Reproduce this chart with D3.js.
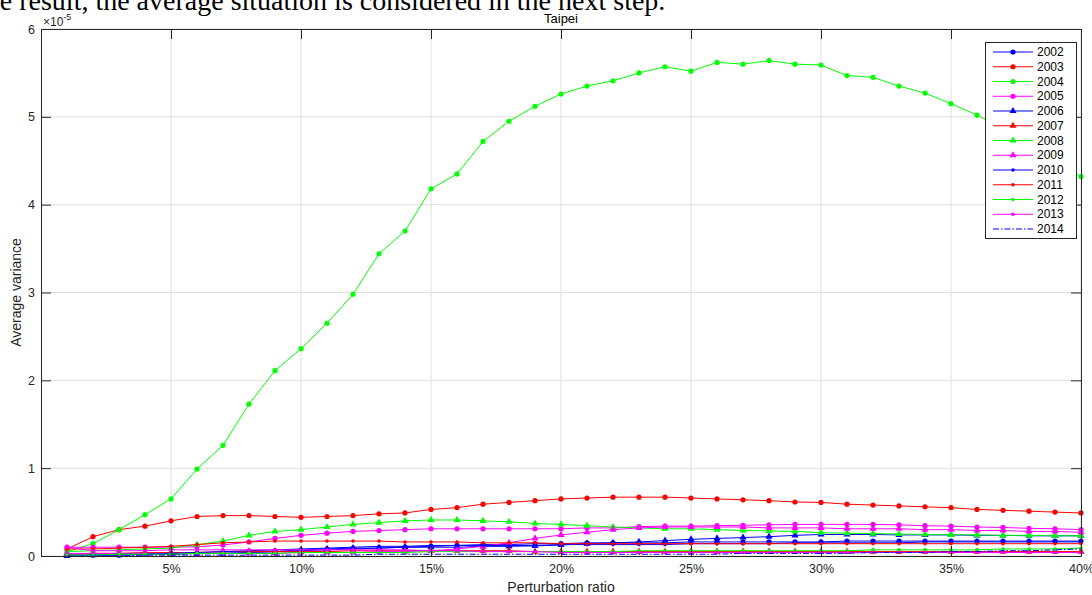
<!DOCTYPE html>
<html>
<head>
<meta charset="utf-8">
<script src="https://cdn.jsdelivr.net/npm/d3@7"></script>
<style>
body { margin: 0; background: #fff; }
svg { display: block; }
</style>
</head>
<body>
<svg></svg>
<script>
// perturbation ratio, %
const ratios = [1, 2, 3, 4, 5, 6, 7, 8, 9, 10, 11, 12, 13, 14, 15, 16, 17, 18, 19, 20,
    21, 22, 23, 24, 25, 26, 27, 28, 29, 30, 31, 32, 33, 34, 35, 36, 37, 38, 39, 40];
const years = ["2002", "2003", "2004", "2005", "2006", "2007", "2008", "2009", "2010", "2011", "2012", "2013", "2014"];
const xTicks = [5, 10, 15, 20, 25, 30, 35, 40];
const yTicks = [0, 1, 2, 3, 4, 5, 6];

// average variance, x 1e-5
const v2002 = [0.01, 0.01, 0.01, 0.02, 0.02, 0.03, 0.03, 0.04, 0.05, 0.06, 0.07, 0.08, 0.09, 0.10, 0.11, 0.12, 0.13, 0.13, 0.14, 0.14,
    0.15, 0.15, 0.15, 0.15, 0.16, 0.16, 0.16, 0.16, 0.16, 0.16, 0.17, 0.17, 0.17, 0.17, 0.17, 0.17, 0.17, 0.17, 0.17, 0.17];
const v2003 = [0.08, 0.22, 0.30, 0.34, 0.40, 0.45, 0.46, 0.46, 0.45, 0.44, 0.45, 0.46, 0.48, 0.49, 0.53, 0.55, 0.59, 0.61, 0.63, 0.65,
    0.66, 0.67, 0.67, 0.67, 0.66, 0.65, 0.64, 0.63, 0.615, 0.61, 0.59, 0.58, 0.57, 0.56, 0.55, 0.53, 0.52, 0.51, 0.50, 0.49];
const v2004 = [0.05, 0.14, 0.30, 0.47, 0.65, 0.99, 1.26, 1.73, 2.11, 2.36, 2.65, 2.98, 3.44, 3.70, 4.18, 4.35, 4.72, 4.95, 5.12, 5.26,
    5.35, 5.41, 5.50, 5.57, 5.52, 5.62, 5.60, 5.64, 5.60, 5.59, 5.47, 5.45, 5.35, 5.27, 5.15, 5.02, 4.86, 4.68, 4.50, 4.32];
const v2005 = [0.10, 0.10, 0.10, 0.10, 0.10, 0.105, 0.125, 0.16, 0.20, 0.235, 0.26, 0.28, 0.29, 0.30, 0.31, 0.31, 0.31, 0.31, 0.31, 0.31,
    0.32, 0.32, 0.335, 0.34, 0.34, 0.345, 0.35, 0.355, 0.36, 0.36, 0.36, 0.36, 0.355, 0.345, 0.34, 0.33, 0.325, 0.315, 0.31, 0.30];
const v2006 = [0.00, 0.01, 0.01, 0.02, 0.02, 0.03, 0.03, 0.04, 0.05, 0.07, 0.08, 0.09, 0.09, 0.10, 0.10, 0.10, 0.11, 0.11, 0.115, 0.125,
    0.14, 0.15, 0.16, 0.175, 0.19, 0.20, 0.21, 0.22, 0.235, 0.245, 0.245, 0.245, 0.24, 0.24, 0.24, 0.235, 0.235, 0.23, 0.23, 0.23];
const v2007 = [0.02, 0.03, 0.03, 0.04, 0.04, 0.04, 0.05, 0.05, 0.05, 0.05, 0.05, 0.06, 0.06, 0.06, 0.06, 0.06, 0.06, 0.06, 0.05, 0.05,
    0.05, 0.05, 0.05, 0.05, 0.05, 0.05, 0.05, 0.05, 0.05, 0.05, 0.05, 0.05, 0.05, 0.05, 0.05, 0.05, 0.05, 0.05, 0.05, 0.05];
const v2008 = [0.05, 0.06, 0.07, 0.08, 0.09, 0.13, 0.17, 0.235, 0.28, 0.30, 0.33, 0.36, 0.38, 0.40, 0.41, 0.41, 0.40, 0.39, 0.37, 0.36,
    0.345, 0.33, 0.32, 0.31, 0.31, 0.30, 0.29, 0.285, 0.28, 0.265, 0.26, 0.255, 0.25, 0.245, 0.24, 0.24, 0.235, 0.235, 0.23, 0.23];
const v2009 = [0.03, 0.03, 0.03, 0.03, 0.03, 0.03, 0.03, 0.03, 0.03, 0.04, 0.04, 0.04, 0.05, 0.05, 0.06, 0.08, 0.11, 0.15, 0.20, 0.24,
    0.27, 0.30, 0.32, 0.33, 0.33, 0.33, 0.33, 0.32, 0.32, 0.32, 0.31, 0.31, 0.31, 0.30, 0.30, 0.29, 0.29, 0.28, 0.28, 0.27];
const v2010 = [0.01, 0.01, 0.02, 0.02, 0.03, 0.04, 0.05, 0.06, 0.07, 0.08, 0.09, 0.10, 0.11, 0.11, 0.12, 0.12, 0.12, 0.12, 0.12, 0.13,
    0.13, 0.13, 0.13, 0.13, 0.14, 0.14, 0.14, 0.14, 0.15, 0.15, 0.15, 0.15, 0.15, 0.16, 0.16, 0.16, 0.16, 0.16, 0.16, 0.16];
const v2011 = [0.08, 0.08, 0.09, 0.10, 0.11, 0.13, 0.15, 0.16, 0.17, 0.17, 0.17, 0.17, 0.17, 0.16, 0.16, 0.16, 0.15, 0.15, 0.15, 0.14,
    0.14, 0.14, 0.14, 0.14, 0.14, 0.14, 0.14, 0.14, 0.14, 0.14, 0.14, 0.14, 0.14, 0.14, 0.14, 0.14, 0.14, 0.14, 0.14, 0.14];
const v2012 = [0.01, 0.01, 0.02, 0.02, 0.02, 0.03, 0.03, 0.03, 0.03, 0.04, 0.04, 0.04, 0.04, 0.04, 0.05, 0.05, 0.05, 0.05, 0.05, 0.05,
    0.05, 0.05, 0.06, 0.06, 0.06, 0.06, 0.06, 0.06, 0.06, 0.06, 0.06, 0.07, 0.07, 0.07, 0.07, 0.07, 0.08, 0.08, 0.08, 0.09];
const v2013 = [0.10, 0.06, 0.06, 0.06, 0.07, 0.07, 0.07, 0.07, 0.07, 0.07, 0.07, 0.07, 0.07, 0.07, 0.06, 0.06, 0.05, 0.05, 0.05, 0.04,
    0.04, 0.04, 0.04, 0.04, 0.04, 0.04, 0.04, 0.04, 0.04, 0.04, 0.04, 0.04, 0.04, 0.04, 0.04, 0.04, 0.04, 0.04, 0.04, 0.04];
const v2014 = [0.00, 0.00, 0.00, 0.01, 0.01, 0.01, 0.01, 0.01, 0.01, 0.01, 0.01, 0.01, 0.02, 0.02, 0.02, 0.02, 0.02, 0.02, 0.02, 0.02,
    0.02, 0.02, 0.02, 0.02, 0.02, 0.02, 0.03, 0.03, 0.03, 0.03, 0.03, 0.04, 0.04, 0.04, 0.05, 0.05, 0.06, 0.06, 0.07, 0.08];

const seriesValues = [v2002, v2003, v2004, v2005, v2006, v2007, v2008, v2009, v2010, v2011, v2012, v2013, v2014];

// line styles, same order as years
const seriesColors = ["#0000ff", "#ff0000", "#00ff00", "#ff00ff", "#0000ff", "#ff0000", "#00ff00", "#ff00ff",
    "#0000ff", "#ff0000", "#00ff00", "#ff00ff", "#0000ff"];
const seriesMarkers = ["circle", "circle", "circle", "circle", "triangle", "triangle", "triangle", "triangle",
    "dot", "dot", "dot", "dot", "none"];

const axisColor = "#262626";
const font = "'Liberation Sans', Arial, sans-serif";

function drawMarker(g, type, x, y, color) {
    // draws one marker of the given type at (x, y)
    if (type == "circle") {
        g.append("circle").attr("cx", x).attr("cy", y).attr("r", 2.6).attr("fill", color);
    } else if (type == "dot") {
        g.append("circle").attr("cx", x).attr("cy", y).attr("r", 1.8).attr("fill", color);
    } else if (type == "triangle") {
        g.append("path")
            .attr("d", d3.symbol().type(d3.symbolTriangle).size(22)())
            .attr("transform", `translate(${x}, ${y})`)
            .attr("fill", color);
    }
}

function styleAxis(g) {
    g.select(".domain").attr("stroke", axisColor).attr("stroke-width", 1);
    g.selectAll(".tick line").attr("stroke", axisColor);
    g.selectAll(".tick text")
        .attr("fill", axisColor)
        .style("font-family", font)
        .style("font-size", "12.5px");
}

function drawChart() {
    let width = 1092;
    let height = 595;
    let left = 41;
    let right = 1081;
    let top = 29;
    let bottom = 556;

    let svg = d3.select("svg")
        .attr("width", width)
        .attr("height", height);

    // text of the page above the figure, cut at the top
    svg.append("text")
        .attr("x", -22)
        .attr("y", 10)
        .style("font-family", "'Liberation Serif', 'Times New Roman', serif")
        .style("font-size", "28px")
        .attr("fill", "#000")
        .text("the result, the average situation is considered in the next step.");

    let scaleX = d3.scaleLinear().domain([0, 40]).range([left, right]);
    let scaleY = d3.scaleLinear().domain([0, 6]).range([bottom, top]);

    // grid
    let grid = svg.append("g");
    grid.selectAll(".gx")
        .data(xTicks)
        .enter()
        .append("line")
        .attr("x1", d => scaleX(d)).attr("x2", d => scaleX(d))
        .attr("y1", top).attr("y2", bottom)
        .attr("stroke", "#dedede");
    grid.selectAll(".gy")
        .data(yTicks)
        .enter()
        .append("line")
        .attr("x1", left).attr("x2", right)
        .attr("y1", d => scaleY(d)).attr("y2", d => scaleY(d))
        .attr("stroke", "#dedede");

    // series
    let line = d3.line()
        .x((d, i) => scaleX(ratios[i]))
        .y(d => scaleY(d));
    seriesValues.forEach(function (values, k) {
        let g = svg.append("g");
        g.append("path")
            .datum(values)
            .attr("d", line)
            .attr("fill", "none")
            .attr("stroke", seriesColors[k])
            .attr("stroke-width", 1)
            .attr("stroke-dasharray", seriesMarkers[k] == "none" ? "6,2,1.5,2" : null);
        values.forEach(function (v, i) {
            drawMarker(g, seriesMarkers[k], scaleX(ratios[i]), scaleY(v), seriesColors[k]);
        });
    });

    // axes, ticks go inside the box
    svg.append("g")
        .attr("transform", `translate(0, ${bottom})`)
        .call(d3.axisBottom(scaleX).tickValues(xTicks).tickSizeInner(-10).tickSizeOuter(0).tickPadding(8)
            .tickFormat(d => d + "%"))
        .call(styleAxis);
    svg.append("g")
        .attr("transform", `translate(0, ${top})`)
        .call(d3.axisTop(scaleX).tickValues(xTicks).tickSizeInner(-10).tickSizeOuter(0).tickFormat(""))
        .call(styleAxis);
    svg.append("g")
        .attr("transform", `translate(${left}, 0)`)
        .call(d3.axisLeft(scaleY).tickValues(yTicks).tickSizeInner(-10).tickSizeOuter(0).tickPadding(6)
            .tickFormat(d3.format("d")))
        .call(styleAxis);
    svg.append("g")
        .attr("transform", `translate(${right}, 0)`)
        .call(d3.axisRight(scaleY).tickValues(yTicks).tickSizeInner(-10).tickSizeOuter(0).tickFormat(""))
        .call(styleAxis);

    // exponent of the y axis
    let expo = svg.append("text")
        .attr("x", left + 2)
        .attr("y", 26)
        .attr("fill", axisColor)
        .style("font-family", font)
        .style("font-size", "12px");
    expo.append("tspan").text("\u00d710");
    expo.append("tspan").attr("dy", -6).style("font-size", "9px").text("-5");

    // title and axis labels
    svg.append("text")
        .attr("x", (left + right) / 2)
        .attr("y", 23)
        .attr("text-anchor", "middle")
        .attr("fill", "#000")
        .style("font-family", font)
        .style("font-size", "13px")
        .text("Taipei");
    svg.append("text")
        .attr("x", (left + right) / 2)
        .attr("y", 592)
        .attr("text-anchor", "middle")
        .attr("fill", axisColor)
        .style("font-family", font)
        .style("font-size", "14px")
        .text("Perturbation ratio");
    svg.append("text")
        .attr("transform", `translate(21, ${(top + bottom) / 2}) rotate(-90)`)
        .attr("text-anchor", "middle")
        .attr("fill", axisColor)
        .style("font-family", font)
        .style("font-size", "14px")
        .text("Average variance");

    // legend
    let legend = svg.append("g");
    legend.append("rect")
        .attr("x", 985.5).attr("y", 42.5)
        .attr("width", 91).attr("height", 196)
        .attr("fill", "#fff")
        .attr("stroke", axisColor)
        .attr("stroke-width", 1);
    years.forEach(function (year, k) {
        let y = 52 + k * 14.75;
        legend.append("line")
            .attr("x1", 993).attr("x2", 1033)
            .attr("y1", y).attr("y2", y)
            .attr("stroke", seriesColors[k])
            .attr("stroke-width", 1)
            .attr("stroke-dasharray", seriesMarkers[k] == "none" ? "6,2,1.5,2" : null);
        drawMarker(legend, seriesMarkers[k], 1013, y, seriesColors[k]);
        legend.append("text")
            .attr("x", 1037)
            .attr("y", y + 4)
            .attr("fill", "#000")
            .style("font-family", font)
            .style("font-size", "12px")
            .text(year);
    });
}

drawChart();
</script>
</body>
</html>
